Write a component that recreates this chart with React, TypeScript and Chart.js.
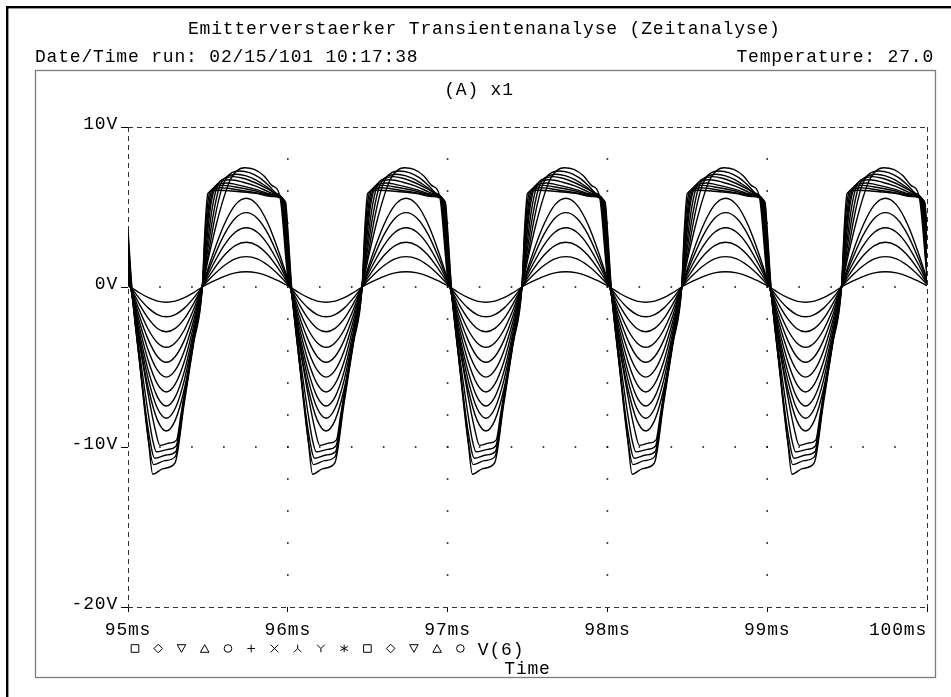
import React, { useEffect, useRef } from "react";
import { Chart, registerables } from "chart.js";

Chart.register(...registerables);

// ---------- text ----------
const titleText = "Emitterverstaerker Transientenanalyse (Zeitanalyse)";
const dateText = "Date/Time run: 02/15/101 10:17:38";
const tempText = "Temperature: 27.0";
const sectionText = "(A) x1";
const traceName = "V(6)";
const axisTitle = "Time";

// ---------- axes ----------
const xTicks = [95, 96, 97, 98, 99, 100]; // ms
const yTicks = [-20, -10, 0, 10]; // V
const xUnit = "ms";
const yUnit = "V";

// start of every 1 ms period shown, and the end of the window
const cycleStarts = [95, 96, 97, 98, 99];
const endTime = 100;

// legend markers, one per trace
const markers = [
  "square", "diamond", "triDown", "triUp", "circle", "plus", "cross", "lambda", "ypsilon", "star",
  "square", "diamond", "triDown", "triUp", "circle",
];

// ---------- one period of each trace (phase in ms inside the period, volts) ----------
const smoothPhase = [0, 0.015, 0.071, 0.128, 0.184, 0.24, 0.296, 0.353, 0.409, 0.465, 0.534, 0.603, 0.671, 0.74, 0.809, 0.878, 0.946];
const v01 = [0.08, 0, -0.36, -0.67, -0.88, -0.95, -0.88, -0.67, -0.36, 0, 0.36, 0.67, 0.88, 0.95, 0.88, 0.67, 0.36];
const v02 = [0.16, 0, -0.71, -1.32, -1.72, -1.86, -1.72, -1.32, -0.71, 0, 0.73, 1.34, 1.76, 1.9, 1.76, 1.34, 0.73];
const v03 = [0.24, 0, -1.07, -1.98, -2.59, -2.8, -2.59, -1.98, -1.07, 0, 1.07, 1.98, 2.59, 2.8, 2.59, 1.98, 1.07];
const v04 = [0.32, 0, -1.44, -2.67, -3.48, -3.77, -3.48, -2.67, -1.44, 0, 1.42, 2.62, 3.42, 3.7, 3.42, 2.62, 1.42];
const v05 = [0.4, 0, -1.8, -3.32, -4.34, -4.7, -4.34, -3.32, -1.8, 0, 1.78, 3.29, 4.3, 4.65, 4.3, 3.29, 1.78];
const v06 = [0.48, 0, -2.16, -3.98, -5.2, -5.63, -5.2, -3.98, -2.16, 0, 2.13, 3.92, 5.13, 5.55, 5.13, 3.92, 2.13];

const t07 = [[0, 0.6], [0.015, 0], [0.071, -2.51], [0.128, -4.64], [0.184, -6.06], [0.24, -6.56], [0.296, -6.06], [0.353, -4.64], [0.409, -2.51], [0.465, 0], [0.51, 2.1], [0.555, 4.0], [0.6, 5.6], [0.64, 6.7], [0.68, 7.25], [0.73, 7.45], [0.79, 7.35], [0.85, 6.95], [0.9, 6.35], [0.95, 5.7]];
const t08 = [[0, 0.9], [0.016, 0], [0.071, -2.85], [0.128, -5.26], [0.184, -6.87], [0.24, -7.44], [0.296, -6.87], [0.353, -5.26], [0.409, -2.85], [0.465, 0], [0.505, 2.2], [0.545, 4.4], [0.585, 6.1], [0.615, 6.8], [0.65, 7.15], [0.7, 7.25], [0.76, 7.15], [0.82, 6.85], [0.88, 6.35], [0.93, 5.85], [0.955, 5.6]];
const t09 = [[0, 1.1], [0.017, 0], [0.071, -3.14], [0.128, -5.8], [0.184, -7.58], [0.24, -8.2], [0.296, -7.58], [0.353, -5.8], [0.409, -3.14], [0.465, 0], [0.5, 2.4], [0.535, 4.6], [0.57, 6.2], [0.595, 6.7], [0.63, 6.95], [0.68, 7.05], [0.74, 6.95], [0.8, 6.7], [0.87, 6.25], [0.93, 5.8], [0.96, 5.55]];
const t10 = [[0, 1.3], [0.018, 0], [0.071, -3.45], [0.128, -6.36], [0.184, -8.32], [0.24, -9.0], [0.296, -8.32], [0.353, -6.36], [0.409, -3.45], [0.465, 0], [0.495, 2.5], [0.525, 4.8], [0.555, 6.2], [0.575, 6.6], [0.61, 6.8], [0.66, 6.9], [0.72, 6.8], [0.8, 6.5], [0.88, 6.1], [0.94, 5.75], [0.965, 5.5]];
const t11 = [[0, 1.5], [0.019, 0], [0.071, -3.4], [0.128, -6.8], [0.17, -8.9], [0.2, -9.9], [0.26, -9.75], [0.305, -9.55], [0.33, -8.05], [0.39, -4.45], [0.465, 0], [0.49, 2.6], [0.515, 4.9], [0.54, 6.1], [0.56, 6.45], [0.6, 6.65], [0.64, 6.7], [0.72, 6.55], [0.8, 6.3], [0.88, 5.95], [0.95, 5.65], [0.97, 5.45]];
const t12 = [[0, 2.1], [0.02, 0], [0.071, -4.0], [0.128, -8.0], [0.155, -9.6], [0.178, -10.3], [0.25, -10.15], [0.3, -9.95], [0.35, -6.95], [0.41, -3.35], [0.465, 0], [0.487, 2.8], [0.51, 5.0], [0.53, 6.0], [0.545, 6.3], [0.58, 6.45], [0.62, 6.5], [0.7, 6.35], [0.8, 6.1], [0.9, 5.8], [0.975, 5.45]];
const t13 = [[0, 2.7], [0.021, 0], [0.071, -4.5], [0.128, -9.0], [0.168, -10.7], [0.24, -10.5], [0.298, -10.3], [0.35, -7.1], [0.41, -3.4], [0.465, 0], [0.485, 3.0], [0.505, 5.1], [0.52, 5.95], [0.53, 6.15], [0.56, 6.3], [0.6, 6.35], [0.7, 6.2], [0.8, 6.0], [0.9, 5.75], [0.98, 5.4]];
const t14 = [[0, 3.2], [0.023, 0], [0.071, -4.6], [0.128, -9.6], [0.16, -11.1], [0.23, -10.85], [0.296, -10.6], [0.35, -7.2], [0.41, -3.45], [0.465, 0], [0.482, 3.2], [0.5, 5.3], [0.515, 6.0], [0.55, 6.15], [0.58, 6.2], [0.7, 6.05], [0.8, 5.9], [0.9, 5.7], [0.983, 5.35]];
const t15 = [[0, 3.6], [0.024, 0], [0.071, -4.5], [0.128, -9.6], [0.155, -11.7], [0.22, -11.35], [0.294, -11.0], [0.35, -7.4], [0.41, -3.55], [0.465, 0], [0.48, 3.3], [0.492, 5.2], [0.5, 5.85], [0.53, 6.0], [0.56, 6.05], [0.7, 5.95], [0.8, 5.85], [0.9, 5.65], [0.986, 5.3]];

const zip = (vals: number[]) => smoothPhase.map((p, i) => [p, vals[i]]);
const periodTemplates: number[][][] = [
  zip(v01), zip(v02), zip(v03), zip(v04), zip(v05), zip(v06),
  t07, t08, t09, t10, t11, t12, t13, t14, t15,
];

function buildSeries(tpl: number[][]) {
  const pts: { x: number; y: number }[] = [];
  for (const c of cycleStarts) for (const [p, v] of tpl) pts.push({ x: c + p, y: v });
  pts.push({ x: endTime, y: tpl[0][1] });
  return pts;
}

const FONT = "Liberation Mono";
const FSIZE = 18;
const ADV = 11.62;
const SPACING = "0.82px";

function drawMono(ctx: CanvasRenderingContext2D, text: string, x: number, y: number) {
  for (let i = 0; i < text.length; i++) ctx.fillText(text[i], x + i * ADV, y);
}

function drawMarker(ctx: CanvasRenderingContext2D, kind: string, cx: number, cy: number) {
  const s = 3.8;
  ctx.beginPath();
  switch (kind) {
    case "square": ctx.rect(cx - s, cy - s, 2 * s, 2 * s); break;
    case "diamond": ctx.moveTo(cx, cy - s - 0.5); ctx.lineTo(cx + s + 0.5, cy); ctx.lineTo(cx, cy + s + 0.5); ctx.lineTo(cx - s - 0.5, cy); ctx.closePath(); break;
    case "triDown": ctx.moveTo(cx - s - 0.5, cy - s); ctx.lineTo(cx + s + 0.5, cy - s); ctx.lineTo(cx, cy + s); ctx.closePath(); break;
    case "triUp": ctx.moveTo(cx, cy - s); ctx.lineTo(cx + s + 0.5, cy + s); ctx.lineTo(cx - s - 0.5, cy + s); ctx.closePath(); break;
    case "circle": ctx.arc(cx, cy, s, 0, Math.PI * 2); break;
    case "plus": ctx.moveTo(cx - s, cy); ctx.lineTo(cx + s, cy); ctx.moveTo(cx, cy - s); ctx.lineTo(cx, cy + s); break;
    case "cross": ctx.moveTo(cx - s, cy - s); ctx.lineTo(cx + s, cy + s); ctx.moveTo(cx + s, cy - s); ctx.lineTo(cx - s, cy + s); break;
    case "lambda": ctx.moveTo(cx, cy - s); ctx.lineTo(cx, cy); ctx.lineTo(cx - s, cy + s); ctx.moveTo(cx, cy); ctx.lineTo(cx + s, cy + s); break;
    case "ypsilon": ctx.moveTo(cx - s, cy - s); ctx.lineTo(cx, cy); ctx.lineTo(cx + s, cy - s); ctx.moveTo(cx, cy); ctx.lineTo(cx, cy + s); break;
    case "star":
      ctx.moveTo(cx, cy - s); ctx.lineTo(cx, cy + s);
      ctx.moveTo(cx - s, cy - s * 0.55); ctx.lineTo(cx + s, cy + s * 0.55);
      ctx.moveTo(cx + s, cy - s * 0.55); ctx.lineTo(cx - s, cy + s * 0.55);
      break;
  }
  ctx.stroke();
}

const framePlugin = {
  id: "pspiceFrame",
  beforeDraw(chart: any) {
    const ctx: CanvasRenderingContext2D = chart.ctx;
    ctx.save();
    (ctx as any).letterSpacing = "0px";
    ctx.fillStyle = "#fff";
    ctx.fillRect(0, 0, chart.width, chart.height);
    // outer black frame (top & left visible)
    ctx.fillStyle = "#000";
    ctx.fillRect(6, 6, chart.width - 6, 2.4);
    ctx.fillRect(6, 6, 2.4, chart.height - 6);
    // gray inner frame
    ctx.strokeStyle = "#7c7c7c";
    ctx.lineWidth = 1.3;
    ctx.strokeRect(35.5, 70.5, 900, 607);
    // header texts
    ctx.fillStyle = "#000";
    ctx.font = `${FSIZE}px "${FONT}"`;
    ctx.textBaseline = "alphabetic";
    ctx.textAlign = "left";
    drawMono(ctx, titleText, 188, 34);
    drawMono(ctx, dateText, 35, 62);
    drawMono(ctx, tempText, 934 - tempText.length * ADV, 62);
    drawMono(ctx, sectionText, 479 - (sectionText.length / 2) * ADV, 95);
    // legend line
    ctx.strokeStyle = "#000";
    ctx.lineWidth = 1;
    const lx0 = 135;
    const ly = 648.5;
    markers.forEach((m, i) => drawMarker(ctx, m, lx0 + i * 2 * ADV, ly));
    drawMono(ctx, traceName, lx0 + markers.length * 2 * ADV - ADV / 2, 654.5);
    ctx.restore();
    (ctx as any).letterSpacing = SPACING;
  },
  beforeDatasetsDraw(chart: any) {
    const ctx: CanvasRenderingContext2D = chart.ctx;
    const xs = chart.scales.x;
    const ys = chart.scales.y;
    const l = xs.getPixelForValue(xTicks[0]);
    const r = xs.getPixelForValue(xTicks[xTicks.length - 1]);
    const t = ys.getPixelForValue(yTicks[yTicks.length - 1]);
    const b = ys.getPixelForValue(yTicks[0]);
    ctx.save();
    // dotted grid: along major lines, at minor steps
    ctx.fillStyle = "#111";
    for (const yv of yTicks.slice(1, -1)) {
      const py = ys.getPixelForValue(yv);
      for (let k = 1; k < 25; k++) {
        const px = xs.getPixelForValue(xTicks[0] + k * 0.2);
        ctx.fillRect(px - 0.8, py - 0.8, 1.6, 1.6);
      }
    }
    for (const xv of xTicks.slice(1, -1)) {
      const px = xs.getPixelForValue(xv);
      for (let k = 1; k < 15; k++) {
        const py = ys.getPixelForValue(yTicks[0] + k * 2);
        ctx.fillRect(px - 0.8, py - 0.8, 1.6, 1.6);
      }
    }
    // dashed plot frame
    ctx.strokeStyle = "#333";
    ctx.lineWidth = 1;
    ctx.setLineDash([5, 4]);
    ctx.beginPath();
    ctx.moveTo(l, t + 0.5); ctx.lineTo(r, t + 0.5);
    ctx.moveTo(l, b + 0.5); ctx.lineTo(r, b + 0.5);
    ctx.moveTo(l + 0.5, t); ctx.lineTo(l + 0.5, b);
    ctx.moveTo(r + 0.5, t); ctx.lineTo(r + 0.5, b);
    ctx.stroke();
    ctx.restore();
  },
};

export default function App() {
  const ref = useRef<HTMLCanvasElement>(null);
  useEffect(() => {
    if (!ref.current) return;
    const datasets = periodTemplates.map((tpl, i) => ({
      label: `${traceName} ${i + 1}`,
      data: buildSeries(tpl),
      borderColor: "#000",
      borderWidth: 1.4,
      pointRadius: 0,
      fill: false,
      cubicInterpolationMode: "monotone" as const,
    }));
    const lastX = xTicks[xTicks.length - 1];
    const chart = new Chart(ref.current, {
      type: "line",
      data: { datasets },
      plugins: [framePlugin],
      options: {
        animation: false,
        responsive: false,
        devicePixelRatio: 1,
        events: [],
        layout: { padding: { left: 0, top: 127, right: 24, bottom: 17 } },
        plugins: { legend: { display: false }, tooltip: { enabled: false }, title: { display: false } },
        scales: {
          x: {
            type: "linear",
            min: xTicks[0],
            max: lastX,
            afterFit: (s: any) => { s.height = 73; s.paddingLeft = 0; s.paddingRight = 0; },
            afterBuildTicks: (s: any) => { s.ticks = xTicks.map((v) => ({ value: v })); },
            ticks: {
              autoSkip: false,
              maxRotation: 0,
              padding: 7,
              color: "#000",
              font: { family: FONT, size: FSIZE },
              // the last label sits inside the frame, as in the original plot
              callback: (v: any) => `${v}${xUnit}` + (v === lastX ? "     " : ""),
            },
            grid: { drawOnChartArea: false, drawTicks: true, tickLength: 5, color: "#000", lineWidth: 1 },
            border: { display: false },
            title: { display: true, text: axisTitle, color: "#000", font: { family: FONT, size: FSIZE }, padding: { top: 0, bottom: 0 } },
          },
          y: {
            type: "linear",
            min: yTicks[0],
            max: yTicks[yTicks.length - 1],
            afterFit: (s: any) => { s.width = 128; s.paddingTop = 0; s.paddingBottom = 0; },
            afterBuildTicks: (s: any) => { s.ticks = yTicks.map((v) => ({ value: v })); },
            ticks: {
              autoSkip: false,
              padding: 3,
              labelOffset: -3,
              color: "#000",
              font: { family: FONT, size: FSIZE },
              callback: (v: any) => `${v}${yUnit}`,
            },
            grid: { drawOnChartArea: false, drawTicks: true, tickLength: 7, color: "#000", lineWidth: 1 },
            border: { display: false },
          },
        },
      },
    });
    return () => chart.destroy();
  }, []);
  return (
    <div style={{ position: "fixed", left: 0, top: 0, width: 951, height: 697, background: "#fff" }}>
      <canvas ref={ref} width={951} height={697} style={{ display: "block", width: 951, height: 697 }} />
    </div>
  );
}
